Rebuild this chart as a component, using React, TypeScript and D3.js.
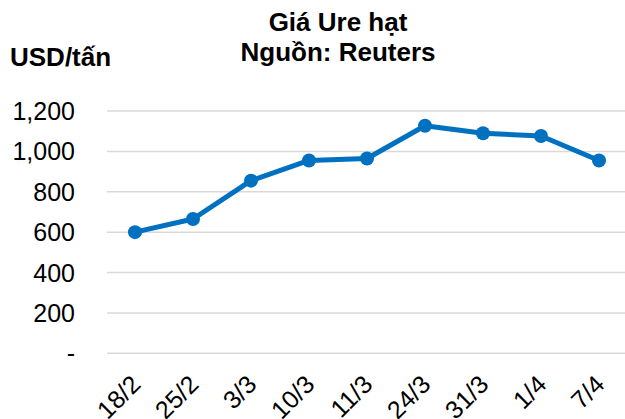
import React from "react";
import * as d3 from "d3";

const categories = ["18/2", "25/2", "3/3", "10/3", "11/3", "24/3", "31/3", "1/4", "7/4"];
const values = [600, 665, 855, 955, 965, 1127, 1090, 1076, 955];
const yTicks = [0, 200, 400, 600, 800, 1000, 1200];
const title1 = "Giá Ure hạt";
const title2 = "Nguồn: Reuters";
const yUnit = "USD/tấn";

const W = 625;
const H = 419;
const FONT = "'Liberation Sans', Arial, sans-serif";

export default function App() {
  const x = d3.scaleBand<string>().domain(categories).range([106, 628]);
  const y = d3.scaleLinear().domain([0, 1200]).range([353.3, 111]);
  const fmt = (v: number) => (v === 0 ? "-" : d3.format(",")(v));
  const line = d3
    .line<number>()
    .x((_, i) => (x(categories[i]) as number) + x.bandwidth() / 2)
    .y((d) => y(d));

  return (
    <svg
      width={W}
      height={H}
      style={{ position: "absolute", left: 0, top: 0, background: "#fff" }}
      fontFamily={FONT}
    >
      <rect width={W} height={H} fill="#fff" />
      {yTicks.map((t) => (
        <g key={t}>
          <line x1={107} x2={625} y1={y(t)} y2={y(t)} stroke="#d9d9d9" strokeWidth={1.5} />
          <text x={75} y={y(t)} dy="0.36em" textAnchor="end" fontSize={25} fill="#000">
            {fmt(t)}
          </text>
        </g>
      ))}
      <path d={line(values) || ""} fill="none" stroke="#0070C0" strokeWidth={5} strokeLinejoin="round" />
      {values.map((v, i) => (
        <circle
          key={i}
          cx={(x(categories[i]) as number) + x.bandwidth() / 2}
          cy={y(v)}
          r={7}
          fill="#0070C0"
        />
      ))}
      {categories.map((c) => {
        const cx = (x(c) as number) + x.bandwidth() / 2 + 7;
        const cy = 386;
        return (
          <text
            key={c}
            x={cx}
            y={cy}
            textAnchor="end"
            fontSize={25}
            fill="#000"
            transform={`rotate(-45 ${cx} ${cy})`}
          >
            {c}
          </text>
        );
      })}
      <text x={338} y={31} textAnchor="middle" fontSize={26} fontWeight="bold" fill="#000">
        {title1}
      </text>
      <text x={338} y={61} textAnchor="middle" fontSize={26} fontWeight="bold" fill="#000">
        {title2}
      </text>
      <text x={10} y={66} fontSize={26} fontWeight="bold" fill="#000">
        {yUnit}
      </text>
    </svg>
  );
}
